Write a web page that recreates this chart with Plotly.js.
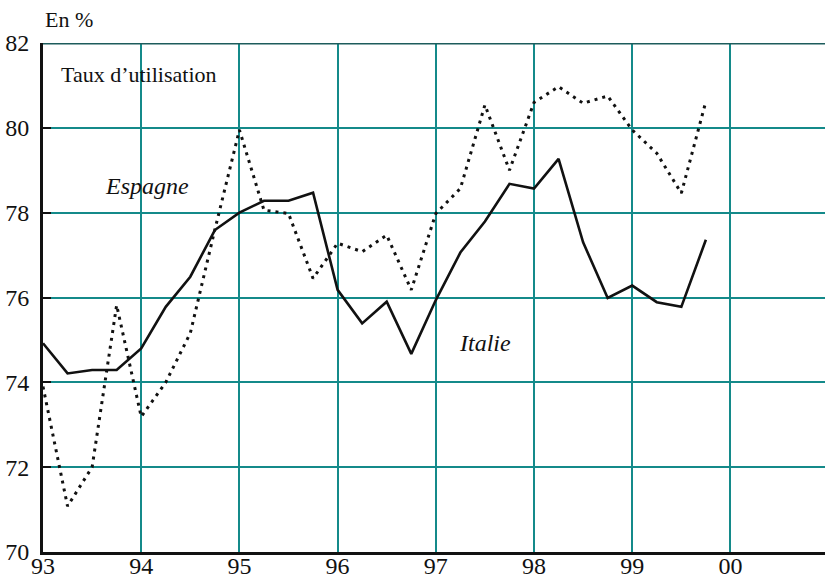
<!DOCTYPE html>
<html><head><meta charset="utf-8">
<script src="https://cdn.plot.ly/plotly-3.0.1.min.js"></script></head>
<body style="margin:0">
<div id="chart" style="width:825px;height:581px"></div>
<script>
// Quarterly dates (year.fraction, 93 = 1993)
var quarters = [93.0, 93.25, 93.5, 93.75, 94.0, 94.25, 94.5, 94.75,
                95.0, 95.25, 95.5, 95.75, 96.0, 96.25, 96.5, 96.75,
                97.0, 97.25, 97.5, 97.75, 98.0, 98.25, 98.5, 98.75,
                99.0, 99.25, 99.5, 99.75];
// Taux d'utilisation (%)
var italie = [74.92, 74.21, 74.29, 74.29, 74.80, 75.78, 76.49, 77.59,
              78.00, 78.28, 78.28, 78.47, 76.18, 75.39, 75.90, 74.67,
              75.94, 77.06, 77.79, 78.68, 78.57, 79.27, 77.30, 75.99,
              76.28, 75.89, 75.78, 77.36];
var espagne = [73.9, 71.08, 72.0, 75.82, 73.19, 74.0, 75.16, 77.6,
               79.95, 78.06, 77.98, 76.45, 77.28, 77.08, 77.47, 76.18,
               77.98, 78.57, 80.54, 79.0, 80.6, 80.97, 80.58, 80.75,
               79.95, 79.4, 78.46, 80.62];
// Axis ticks
var xTickVals = [93, 94, 95, 96, 97, 98, 99, 100];
var xTickText = ["93", "94", "95", "96", "97", "98", "99", "00"];
var yTickVals = [70, 72, 74, 76, 78, 80, 82];

var SERIF = "Liberation Serif";
var teal = "#148a8a";

var traces = [
  {x: quarters, y: espagne, type: "scatter", mode: "lines", name: "Espagne",
   line: {color: "#111", width: 3, dash: "3px,5px"}},
  {x: quarters, y: italie, type: "scatter", mode: "lines", name: "Italie",
   line: {color: "#111", width: 2.6}}
];

var layout = {
  width: 825, height: 581,
  margin: {l: 43, r: 0, t: 43, b: 29},
  paper_bgcolor: "#fff", plot_bgcolor: "#fff",
  showlegend: false,
  font: {family: SERIF, size: 24, color: "#111"},
  xaxis: {
    range: [93, 100.963], tickvals: xTickVals, ticktext: xTickText,
    showgrid: true, gridcolor: teal, gridwidth: 1.6,
    showline: true, linecolor: "#111", linewidth: 3,
    ticks: "", zeroline: false, fixedrange: true,
    ticklabelstandoff: -10,
    tickfont: {family: SERIF, size: 24, color: "#111"}
  },
  yaxis: {
    range: [70, 82], tickvals: yTickVals,
    showgrid: true, gridcolor: teal, gridwidth: 1.6,
    showline: true, linecolor: "#111", linewidth: 3,
    ticks: "inside", ticklen: 8, tickwidth: 2, tickcolor: "#111",
    ticklabelstandoff: 6,
    zeroline: false, fixedrange: true,
    tickfont: {family: SERIF, size: 24, color: "#111"}
  },
  shapes: [
    {type: "line", xref: "paper", yref: "y", x0: 0, x1: 1, y0: 82, y1: 82,
     line: {color: "#1d5c5c", width: 3}, layer: "above"}
  ],
  annotations: [
    {text: "En %", xref: "paper", yref: "paper", x: 0, y: 1.047,
     xanchor: "left", yanchor: "middle", showarrow: false,
     font: {family: SERIF, size: 22, color: "#111"}},
    {text: "Taux d\u2019utilisation", xref: "x", yref: "y", x: 93.166, y: 81.25,
     xanchor: "left", yanchor: "middle", showarrow: false,
     font: {family: SERIF, size: 22, color: "#111"}},
    {text: "<i>Espagne</i>", xref: "x", yref: "y", x: 93.614, y: 78.63,
     xanchor: "left", yanchor: "middle", showarrow: false,
     font: {family: SERIF, size: 24, color: "#111"}},
    {text: "<i>Italie</i>", xref: "x", yref: "y", x: 97.22, y: 74.93,
     xanchor: "left", yanchor: "middle", showarrow: false,
     font: {family: SERIF, size: 24, color: "#111"}}
  ]
};

Plotly.newPlot("chart", traces, layout, {displayModeBar: false});
</script>
</body>
</html>
